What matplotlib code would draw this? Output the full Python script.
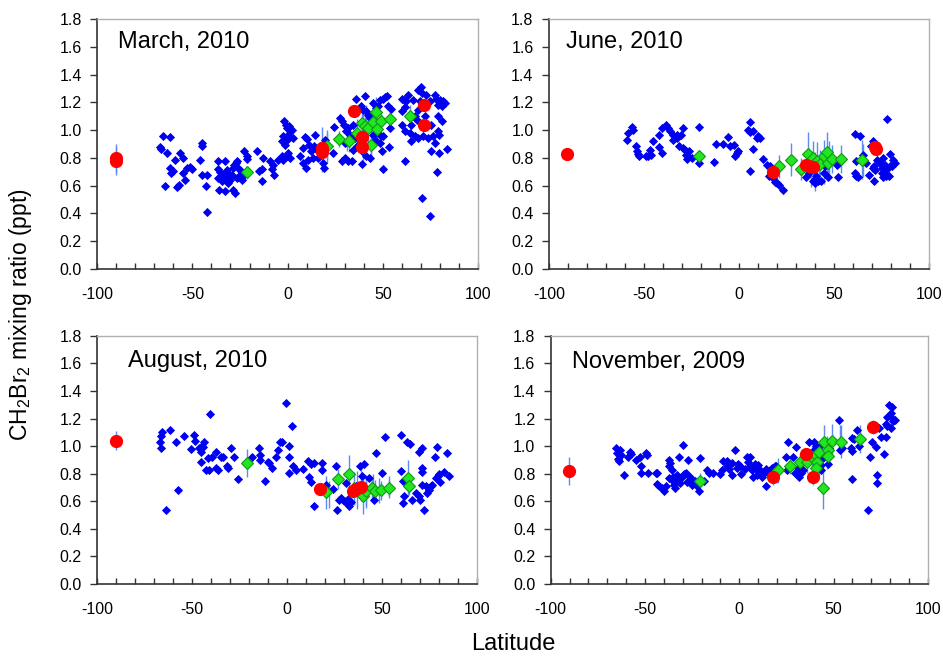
import matplotlib
matplotlib.use("Agg")
import matplotlib.pyplot as plt
from matplotlib.ticker import MultipleLocator

plt.rcParams['font.family'] = ['Liberation Sans', 'DejaVu Sans']
plt.rcParams['mathtext.fontset'] = 'custom'
plt.rcParams['mathtext.rm'] = 'Liberation Sans'
plt.rcParams['axes.unicode_minus'] = False

# ---------------- March, 2010 ----------------
mar_blue_lat = [-67, -66.4, -65.6, -62, -63.5, -64.3, -62, -61, -60.3, -59, -58, -57, -56.5, -55, -54.7, -53.8, -52.6, -51.2, -50.3,
                -45.1, -45.1, -46, -45.1, -42.5, -42.8, -42.5,
                -36.4, -32.9, -36.4, -35.5, -36.4, -34.6, -36, -32.9, -33.7, -32.3, -31.6, -31.1, -30.2, -29.4, -28.8, -28.5, -27.6,
                -28.1, -27.1, -26.4, -25.9, -26.7, -25.3, -24.7, -24.1, -23.3, -22.9, -21.5, -21.5, -30.2, -31.1,
                -15.9, -12.8, -13.6, -14.9, -13.6, -9.3, -8.4, -7, -7.9,
                -4.9, -3.1, -1.9, -0.9, -0.5, 0.9, 1.2, 2.1, -2.6, -3.1, -1.4, -0.5, 0.3, 3, 0.3, 1.2, -0.5, -2.3,
                6.5, 7.9, 9.1, 10.3, 8.2, 9.6, 10.8, 11.4, 12.1, 13.1, 13.8, 14.3, 15.2, 16.1, 18.7, 19.1, 19.6, 17,
                24.5, 24, 27.4, 28.3, 29.5, 30.9, 31.8, 30.1, 28.8, 30.1, 31.8, 33.6, 32.7, 34.1, 35.7, 35.3, 34.4, 36.2,
                38.3, 40.6, 39.7, 41.1, 42.3, 43.2, 38.8, 39.3, 41.4, 43.2, 44.9, 45.8, 44.6, 46.3, 47.6, 48.4, 50.2, 51, 52.3,
                48.8, 50.2, 48.4, 49.8, 50.2, 52.8, 54.5, 54, 53.3,
                59.8, 61, 63.3, 62.4, 61.5, 60.3, 59.8, 61.5, 61.5, 64.2, 65, 66.8, 65.9, 68.5, 69.8, 70.3, 69.4, 68.5, 67.7,
                66.8, 65, 68.5, 70.3, 71.2,
                72.9, 74.7, 75.5, 76.4, 77.3, 78.1, 79, 80.2, 81.6, 82.5, 80.8, 79, 80.8, 79, 79.5, 77.3, 75.5, 79.5, 83.7,
                78.6, 74.7, 73.8, 72]
mar_blue_val = [0.877, 0.863, 0.954, 0.95, 0.834, 0.60, 0.726, 0.69, 0.707, 0.786, 0.587, 0.606, 0.834, 0.80, 0.69, 0.642, 0.724, 0.733, 0.721,
                0.906, 0.882, 0.786, 0.678, 0.678, 0.60, 0.413,
                0.774, 0.774, 0.719, 0.695, 0.654, 0.637, 0.570, 0.558, 0.678, 0.654, 0.714, 0.618, 0.642, 0.678, 0.726, 0.570, 0.55,
                0.75, 0.762, 0.774, 0.726, 0.654, 0.666, 0.702, 0.642, 0.671, 0.846, 0.81, 0.793, 0.666, 0.69,
                0.846, 0.798, 0.721, 0.702, 0.637, 0.774, 0.719, 0.678, 0.75,
                0.786, 0.81, 1.063, 1.038, 1.014, 1.026, 0.99, 1.002, 0.954, 0.923, 0.894, 0.93, 0.966, 0.942, 0.834, 0.798, 0.81, 0.786,
                0.815, 0.870, 0.947, 0.935, 0.762, 0.726, 0.786, 0.894, 0.846, 0.798, 0.882, 0.966, 0.858, 0.798, 0.762, 0.726, 0.93, 0.882,
                1.019, 0.834, 1.087, 1.067, 1.038, 0.99, 1.014, 0.906, 0.774, 0.798, 0.774, 0.774, 0.966, 1.038, 1.224, 0.942, 0.858, 0.882,
                1.171, 1.248, 1.147, 1.135, 1.111, 1.087, 0.755, 0.846, 0.81, 0.798, 0.966, 0.93, 1.195, 1.159, 1.171, 1.219, 1.224, 1.238, 1.243,
                0.959, 0.954, 0.906, 0.846, 0.721, 1.171, 1.151, 1.014, 0.877,
                1.224, 1.219, 1.255, 1.207, 1.163, 1.135, 1.038, 0.99, 0.779, 0.978, 1.038, 1.099, 1.219, 1.291, 1.308, 1.267, 1.207, 1.147, 1.075,
                0.954, 0.918, 0.942, 0.51, 0.954,
                1.255, 1.207, 1.038, 0.954, 1.255, 1.224, 1.183, 1.219, 1.207, 1.195, 1.171, 1.099, 1.063, 0.99, 0.966, 0.906, 0.846, 0.834, 0.863,
                0.697, 0.385, 0.942, 1.099]
mar_bar_lat = [18.2, 20.8, 31, 39.5, 41, 44, 46.3, 53.7]
mar_bar_val = [0.86, 0.88, 0.95, 0.95, 1.0, 0.95, 1.1, 1.08]
mar_bar_err = [0.16, 0.12, 0.1, 0.2, 0.18, 0.15, 0.14, 0.09]
mar_green_lat = [-21.2, 20.5, 26.9, 32.3, 36.2, 38.8, 40.6, 42.3, 44, 44.9, 46.3, 47, 49, 53.7, 64.5]
mar_green_val = [0.695, 0.882, 0.935, 0.925, 0.978, 1.05, 1.03, 1.015, 0.894, 1.055, 1.127, 1.01, 1.067, 1.082, 1.10]
mar_green_err = [0.05, 0.1, 0.06, 0.08, 0.1, 0.12, 0.12, 0.1, 0.12, 0.08, 0.1, 0.08, 0.06, 0.07, 0.08]
mar_red_lat = [-90, -90, 18, 18, 34.8, 38.8, 38.8, 71.5, 71.7]
mar_red_val = [0.80, 0.78, 0.87, 0.84, 1.135, 0.95, 0.877, 1.178, 1.04]
mar_red_err = [0.1, 0.1, 0.05, 0.05, 0.03, 0.04, 0.04, 0.03, 0.03]

# ---------------- June, 2010 ----------------
jun_blue_lat = [-58.2, -58.6, -56, -55.6, -54.2, -53.5, -52.5, -53, -48.9, -47.7, -46.3, -46.8, -45.4, -41.9, -41.9, -40.7, -40.2,
                -38.1, -37.2, -36, -34.9, -34.6, -32.8, -32.8, -31.4, -30.2, -29.6, -29.3, -28.4, -27.9, -27.2, -26.1, -26.7,
                -24.9, -21.1, -21.2, -13.2, -11.8, -8.2, -5.6, -4.4, -2.6, -2.1, -1.2, -0.4,
                4.9, 6.1, 5.8, 7.5, 7.5, 9.3, 10.2, 11.1, 5.8, 12.8, 14.6, 16.3, 16, 18.1, 19, 20.2, 21.2, 23,
                32.5, 35.3, 37, 38.8, 40, 41.8, 43.5, 40.5, 44.7, 45.3, 47, 51.4, 52.3,
                61, 63.7, 61.6, 61.6, 62.8, 61, 65.6, 66.8, 68.6, 69.5, 70.4, 71.2, 71.2, 70.4, 71.6, 72.8, 74.2, 75.1,
                76, 76.8, 75.6, 76, 77.7, 79.1, 78.1, 79.5, 80.4, 81.2, 82.1, 79.5, 77.7]
jun_blue_val = [0.978, 0.930, 1.022, 1.002, 0.882, 0.846, 0.81, 0.829, 0.81, 0.817, 0.822, 0.858, 0.925, 0.966, 0.877, 1.012, 0.834,
                1.038, 1.014, 0.99, 0.93, 0.966, 0.942, 0.966, 0.887, 0.966, 1.014, 0.870, 0.858, 0.822, 0.791, 0.846, 0.81,
                0.798, 1.019, 0.762, 0.767, 0.899, 0.899, 0.95, 0.882, 0.894, 0.817, 0.834, 0.846,
                1.002, 1.055, 0.983, 0.99, 0.863, 0.942, 0.954, 0.942, 0.702, 0.793, 0.75, 0.738, 0.666, 0.654, 0.625, 0.618, 0.606, 0.570,
                0.707, 0.661, 0.690, 0.63, 0.618, 0.63, 0.63, 0.666, 0.690, 0.738, 0.659, 0.75, 0.659,
                0.974, 0.954, 0.774, 0.673, 0.659, 0.690, 0.822, 0.762, 0.678, 0.882, 0.918, 0.63, 0.738, 0.726, 0.714, 0.786, 0.762, 0.726,
                0.798, 0.75, 0.690, 0.659, 0.673, 0.666, 1.079, 0.829, 0.743, 0.786, 0.762, 0.738, 0.714]
jun_bar_lat = [38, 40, 42, 44.7, 47.5, 65.6]
jun_bar_val = [0.72, 0.70, 0.72, 0.73, 0.78, 0.78]
jun_bar_err = [0.13, 0.14, 0.1, 0.12, 0.14, 0.12]
jun_green_lat = [-20.9, 20.9, 27.4, 32.6, 36.5, 38.8, 40.9, 42.6, 44.7, 46.5, 47, 48.9, 54, 64.6]
jun_green_val = [0.815, 0.738, 0.786, 0.719, 0.829, 0.798, 0.774, 0.757, 0.81, 0.839, 0.762, 0.791, 0.793, 0.786]
jun_green_err = [0.03, 0.08, 0.12, 0.08, 0.16, 0.12, 0.14, 0.1, 0.12, 0.15, 0.12, 0.1, 0.1, 0.14]
jun_red_lat = [-90.5, 18.1, 35.3, 37, 39.1, 71.6, 72.1]
jun_red_val = [0.829, 0.695, 0.75, 0.743, 0.733, 0.877, 0.865]
jun_red_err = [0.02, 0.03, 0.03, 0.03, 0.03, 0.03, 0.03]

# ---------------- August, 2010 ----------------
aug_blue_lat = [-67.1, -66.6, -65.7, -66.3, -64, -61.5, -58.4, -57.2, -54.4, -50.5, -49.1, -48.3, -46.2, -45.3, -44.8, -43.5, -44.4,
                -45.3, -42.7, -41.8, -41.3, -40.4, -39.5, -37.4, -37.4, -36.5, -34.8, -33.9, -31.8, -31.3, -29.5, -27.8, -26.1,
                -18.5, -14.9, -14.5, -14.2, -11.9, -10.1, -9.3, -7.9, -6.1, -4.9, -3.7, -2.6, -0.5, 0.9, 1.2, 0.9, 2.6, 3, 4.7,
                8.2, 10.8, 12.6, 11.7, 12.6, 14.3, 14, 18.4, 18.4, 20.5, 24.3, 25.7, 26, 27.4, 28.3, 30.1, 30.9, 31.8, 32.3, 30.9,
                33.6, 36.2, 38.3, 40.6, 39.3, 43.2, 44.6, 45.8, 47, 49.8, 51.6,
                59.8, 59.8, 61, 61.5, 61.2, 63.3, 64.5, 65.6, 68, 69.4, 69.8, 69.4, 71.2, 70.8, 70.8, 72, 71.2, 72.9, 73.8, 74.7,
                75.6, 76.4, 77.8, 79, 78.1, 79.5, 80.2, 79.9, 82.5, 83.9, 85.1]
aug_blue_val = [1.026, 1.074, 1.105, 0.989, 0.538, 1.117, 1.026, 0.678, 1.076, 0.98, 1.081, 1.04, 0.985, 0.96, 0.997, 1.026, 0.99,
                0.881, 0.828, 0.912, 0.828, 1.231, 0.919, 0.96, 0.84, 0.828, 0.919, 0.924, 0.859, 0.84, 0.985, 0.924, 0.763,
                0.919, 0.989, 0.936, 0.9, 0.743, 0.888, 0.876, 0.84, 0.919, 0.972, 1.033, 1.026, 1.31, 1.004, 0.919, 0.804, 1.146, 0.859, 0.823,
                0.835, 0.893, 0.869, 0.772, 0.736, 0.876, 0.562, 0.876, 0.828, 0.714, 0.688, 0.852, 0.538, 0.611, 0.623, 0.598, 0.591, 0.615, 0.562, 0.731,
                0.591, 0.707, 0.852, 0.871, 0.784, 0.767, 0.707, 0.611, 0.948, 0.808, 1.064,
                1.081, 0.816, 0.743, 0.635, 0.586, 1.026, 1.016, 0.611, 0.659, 0.639, 0.611, 0.96, 0.985, 0.84, 0.811, 0.533, 0.719, 0.707, 0.659, 0.683,
                0.712, 0.719, 0.924, 0.992, 0.767, 0.784, 0.736, 0.799, 0.811, 0.948, 0.784]
aug_bar_lat = [22, 37, 39, 41.5, 45, 48.5, 53.7]
aug_bar_val = [0.65, 0.68, 0.72, 0.67, 0.70, 0.68, 0.70]
aug_bar_err = [0.1, 0.14, 0.12, 0.12, 0.1, 0.09, 0.08]
aug_green_lat = [-21.2, 20.5, 26.6, 32.3, 35.3, 40, 41.4, 44.9, 46.3, 49.3, 53.7, 63.8, 64.2]
aug_green_val = [0.876, 0.664, 0.76, 0.796, 0.695, 0.639, 0.671, 0.695, 0.671, 0.678, 0.695, 0.767, 0.707]
aug_green_err = [0.1, 0.12, 0.07, 0.14, 0.12, 0.13, 0.1, 0.08, 0.08, 0.07, 0.06, 0.13, 0.06]
aug_red_lat = [-90.2, 17.5, 34.8, 36.2, 38.8]
aug_red_val = [1.04, 0.688, 0.671, 0.688, 0.702]
aug_red_err = [0.07, 0.04, 0.04, 0.04, 0.04]

# ---------------- November, 2009 ----------------
nov_blue_lat = [-65.4, -64.9, -64.2, -63.2, -62.8, -63.7, -61.1, -59, -57.9, -57.2, -54.9, -52.6, -52.3, -51.9, -49.6, -48.8, -48.4,
                -44.4, -43.5, -43.9, -42.6, -40.9, -40, -39.1, -37.4, -37.4, -36.5, -37.4, -35.8, -35.1, -34.9, -34.6, -33.9,
                -33.3, -33, -32.1, -31.6, -31.2, -30.4, -29.8, -29.1, -28.2, -27.4, -27.7, -26, -25.1, -25.1, -23.3, -22.5, -21.6,
                -21.1, -18.6, -17.2, -16.3, -14, -10.2, -9.3, -8.4, -6.7, -6.7, -5.3, -4, -4, -2.3, -1.4, -0.5, 0.4, 0.9,
                3, 3.9, 4.7, 5.6, 5.6, 6.5, 7.4, 8.2, 9.1, 9.5, 10, 10.9, 11.8, 13, 14, 14.4, 15.3, 16.1, 17.5, 18.8, 19.6,
                24.9, 25.8, 25.4, 28.4, 29.8, 29.3, 31.1, 31.9, 32.8, 33.7, 36.8, 37.5, 38.9, 39.8, 40.7, 41.6, 42.8, 43.3, 43.3,
                44.2, 46.8, 47.4, 52.6, 53.3, 54.7, 59.1, 59.6, 59.6, 60, 60.9, 62.6, 63.2, 69.1, 68.3, 70.5, 72.3, 73.2, 73.2,
                74, 74.9, 76.7, 77.6, 77.6, 78.4, 79.3, 80.7, 80.2, 81.1, 81.4, 82.8, 78.4, 80.2]
nov_blue_val = [0.985, 0.948, 0.905, 0.972, 0.936, 0.895, 0.791, 0.924, 0.96, 0.944, 0.9, 0.919, 0.859, 0.804, 0.948, 0.936, 0.808,
                0.808, 0.804, 0.724, 0.712, 0.695, 0.676, 0.712, 0.9, 0.852, 0.876, 0.767, 0.828, 0.743, 0.779, 0.719, 0.695,
                0.755, 0.791, 0.924, 0.731, 0.767, 0.779, 1.009, 0.799, 0.808, 0.9, 0.736, 0.779, 0.719, 0.755, 0.743, 0.712, 0.671,
                0.917, 0.743, 0.823, 0.804, 0.804, 0.799, 0.823, 0.895, 0.895, 0.852, 0.833, 0.876, 0.791, 0.972, 0.84, 0.871, 0.852, 0.799,
                0.833, 0.919, 0.881, 0.919, 0.852, 0.823, 0.779, 0.871, 0.833, 0.791, 0.864, 0.823, 0.779, 0.804, 0.833, 0.712, 0.804, 0.828, 0.84, 0.857, 0.852,
                0.924, 1.033, 0.828, 0.919, 0.992, 0.804, 0.84, 0.779, 0.804, 0.828, 1.033, 0.919, 0.967, 1.033, 1.001, 0.864, 0.999, 0.864, 0.828,
                0.912, 0.871, 0.985, 1.19, 0.972, 0.985, 0.985, 1.057, 0.76, 0.967, 1.05, 1.117, 1.001, 0.919, 0.538, 1.033, 0.992, 0.791, 0.731,
                1.129, 1.064, 0.944, 1.064, 1.158, 1.214, 1.298, 1.281, 1.238, 1.207, 1.185, 1.19, 1.146, 1.134]
nov_bar_lat = [40, 42, 46.5, 53.5]
nov_bar_val = [0.92, 0.90, 0.95, 1.05]
nov_bar_err = [0.12, 0.12, 0.12, 0.1]
nov_green_lat = [-21.1, 20.5, 27, 32.3, 35.9, 38.6, 40.4, 41.1, 40.4, 42.5, 44.2, 45.1, 46.8, 46.8, 49.1, 53.9, 64]
nov_green_val = [0.748, 0.823, 0.859, 0.881, 0.881, 0.919, 0.936, 0.888, 0.84, 0.96, 0.695, 1.033, 0.972, 0.929, 1.04, 1.033, 1.05]
nov_green_err = [0.06, 0.09, 0.06, 0.07, 0.08, 0.08, 0.1, 0.08, 0.1, 0.08, 0.15, 0.12, 0.08, 0.08, 0.12, 0.12, 0.1]
nov_red_lat = [-90.2, 17.9, 35.1, 38.9, 70.9]
nov_red_val = [0.82, 0.779, 0.944, 0.779, 1.137]
nov_red_err = [0.1, 0.06, 0.04, 0.06, 0.05]

panels = [
    ("March, 2010", mar_blue_lat, mar_blue_val, mar_bar_lat, mar_bar_val, mar_bar_err,
     mar_green_lat, mar_green_val, mar_green_err, mar_red_lat, mar_red_val, mar_red_err),
    ("June, 2010", jun_blue_lat, jun_blue_val, jun_bar_lat, jun_bar_val, jun_bar_err,
     jun_green_lat, jun_green_val, jun_green_err, jun_red_lat, jun_red_val, jun_red_err),
    ("August, 2010", aug_blue_lat, aug_blue_val, aug_bar_lat, aug_bar_val, aug_bar_err,
     aug_green_lat, aug_green_val, aug_green_err, aug_red_lat, aug_red_val, aug_red_err),
    ("November, 2009", nov_blue_lat, nov_blue_val, nov_bar_lat, nov_bar_val, nov_bar_err,
     nov_green_lat, nov_green_val, nov_green_err, nov_red_lat, nov_red_val, nov_red_err),
]

# axes positions [left, bottom, width, height] in figure fraction
boxes = [[0.103, 0.590, 0.404, 0.381],
         [0.582, 0.590, 0.403, 0.381],
         [0.103, 0.110, 0.403, 0.378],
         [0.584, 0.110, 0.400, 0.378]]
title_pos = [(0.055, 0.91), (0.045, 0.91), (0.08, 0.90), (0.056, 0.895)]

errc = "#5b8cf5"
fig = plt.figure(figsize=(9.43, 6.56), dpi=100)

for i, p in enumerate(panels):
    (name, bx, by, ex, ey, ee, gx, gy, ge, rx, ry, re) = p
    ax = fig.add_axes(boxes[i])
    ax.errorbar(ex, ey, yerr=ee, fmt='none', ecolor=errc, elinewidth=1, capsize=0, zorder=1)
    ax.errorbar(gx, gy, yerr=ge, fmt='none', ecolor=errc, elinewidth=1, capsize=0, zorder=1)
    ax.errorbar(rx, ry, yerr=re, fmt='none', ecolor=errc, elinewidth=1, capsize=0, zorder=1)
    ax.plot(bx, by, 'D', color='#0000f0', markersize=3.8, markeredgewidth=0.6, zorder=2)
    ax.plot(gx, gy, 'D', color='#22e622', markeredgecolor='#119911', markersize=6.2, markeredgewidth=0.8, zorder=3)
    ax.plot(rx, ry, 'o', color='#ff0000', markersize=9.5, markeredgewidth=0, zorder=4)

    ax.set_xlim(-100, 100)
    ax.set_ylim(0, 1.8)
    ax.xaxis.set_major_locator(MultipleLocator(50))
    ax.xaxis.set_minor_locator(MultipleLocator(10))
    ax.yaxis.set_major_locator(MultipleLocator(0.2))
    ax.yaxis.set_major_formatter(matplotlib.ticker.FormatStrFormatter('%.1f'))
    ax.tick_params(axis='both', which='both', width=1, color='#333333', labelsize=11.5)
    ax.tick_params(axis='x', which='both', direction='in', length=4, pad=13)
    ax.tick_params(axis='y', direction='out', length=5, pad=6)
    for s in ['left', 'bottom']:
        ax.spines[s].set_color('#333333')
        ax.spines[s].set_linewidth(1.2)
    for s in ['top', 'right']:
        ax.spines[s].set_color('#b0b0b0')
        ax.spines[s].set_linewidth(1)
    ax.text(title_pos[i][0], title_pos[i][1], name, transform=ax.transAxes,
            fontsize=17, va='center', ha='left')

fig.text(0.022, 0.52, r"CH$_\mathregular{2}$Br$_\mathregular{2}$ mixing ratio (ppt)",
         rotation=90, fontsize=16.5, ha='center', va='center')
fig.text(0.544, 0.018, "Latitude", fontsize=17, ha='center', va='center')

fig.savefig("out.png", dpi=100)
